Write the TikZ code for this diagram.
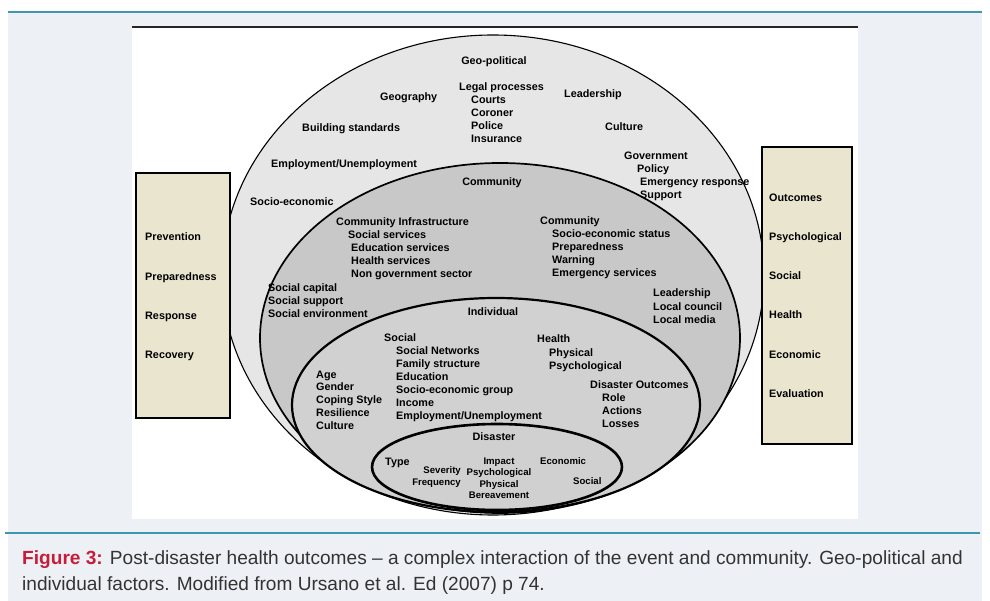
\documentclass[tikz,border=0pt]{standalone}
\usepackage{fontspec}
\setmainfont{Liberation Sans}
\newfontfamily\capfont{Liberation Sans}
\usepackage{tikz}
\usetikzlibrary{shapes, arrows}

\definecolor{panel}{HTML}{EDF1F5}
\definecolor{teal}{HTML}{3F97AD}
\definecolor{beige}{HTML}{E9E5CF}
\definecolor{figred}{HTML}{C41E3A}
\definecolor{captext}{HTML}{333333}
\definecolor{georing}{HTML}{E6E6E6}
\definecolor{commring}{HTML}{C8C8C8}
\definecolor{indring}{HTML}{D1D1D1}
\definecolor{disring}{HTML}{D0D0D0}

\begin{document}
\begin{tikzpicture}[x = 1pt, y = -1pt]
      \tikzstyle{lbl} = [
        anchor = base west,
        align = left,
        inner sep = 0pt,
        font = \fontsize{10.8}{13}\selectfont\bfseries
      ]

      \tikzstyle{small} = [
        lbl,
        font = \fontsize{9.6}{11.5}\selectfont\bfseries
      ]

      \tikzstyle{sidebox} = [
        rectangle,
        draw = black,
        line width = 2.5pt,
        fill = beige,
        inner sep = 0pt
      ]

      \tikzstyle{caption} = [
        anchor = base west,
        inner sep = 0pt,
        text = captext,
        font = \capfont\fontsize{19.1}{22}\selectfont
      ]

      \useasboundingbox (0,0) rectangle (990,601);
      \fill[panel] (8,12) rectangle (982,601);
      \draw[teal, line width = 1.5pt] (8,12) -- (982,12);
      \draw[teal, line width = 1.5pt] (5,533) -- (980,533);
      \fill[white] (132,27) rectangle (858,519);
      \draw[black!85, line width = 2.5pt] (132,27) -- (858,27);

      \draw[fill=georing, line width = 1.1pt] (493,275) ellipse (271 and 240);
      \draw[fill=commring, line width = 1.7pt] (500,338) ellipse (240 and 175);
      \draw[fill=indring, line width = 2.2pt] (496,405) ellipse (204 and 107);
      \draw[fill=disring, line width = 2.6pt] (497,467) ellipse (125 and 43);

      \node[sidebox, minimum width = 94, minimum height = 245] (phases) at (183,295.5) {};
      \node[sidebox, minimum width = 90, minimum height = 297] (results) at (807,295.5) {};

      \node[lbl, font = \fontsize{10.8}{39.2}\selectfont\bfseries] (phaselist) at (145,358.6)
        {Prevention\\Preparedness\\Response\\Recovery};
      \node[lbl, font = \fontsize{10.8}{39.3}\selectfont\bfseries] (resultlist) at (769,397.5)
        {Outcomes\\Psychological\\Social\\Health\\Economic\\Evaluation};

      \node[lbl, anchor = base] (geo) at (494,65) {Geo-political};
      \node[lbl] (geography) at (380,101) {Geography};
      \node[lbl] (legal) at (459,143) {Legal processes\\\hspace*{12pt}Courts\\
        \hspace*{12pt}Coroner\\\hspace*{12pt}Police\\\hspace*{12pt}Insurance};
      \node[lbl] (leadership) at (564,98) {Leadership};
      \node[lbl] (building) at (302,132) {Building standards};
      \node[lbl] (culture) at (605,131) {Culture};
      \node[lbl] (government) at (624,199) {Government\\\hspace*{13pt}Policy\\
        \hspace*{16pt}Emergency response\\\hspace*{16pt}Support};
      \node[lbl] (employment) at (271,168) {Employment/Unemployment};
      \node[lbl] (socioeconomic) at (250,206) {Socio-economic};

      \node[lbl, anchor = base] (community) at (492,186) {Community};
      \node[lbl] (infrastructure) at (336,278) {Community Infrastructure\\
        \hspace*{12pt}Social services\\\hspace*{15pt}Education services\\
        \hspace*{15pt}Health services\\\hspace*{15pt}Non government sector};
      \node[lbl] (communitystatus) at (540,277) {Community\\
        \hspace*{12pt}Socio-economic status\\\hspace*{12pt}Preparedness\\
        \hspace*{12pt}Warning\\\hspace*{12pt}Emergency services};
      \node[lbl] (socialcapital) at (268,318) {Social capital\\Social support\\Social environment};
      \node[lbl, font = \fontsize{10.8}{13.5}\selectfont\bfseries] (localleaders) at (653,324)
        {Leadership\\Local council\\Local media};

      \node[lbl, anchor = base] (individual) at (493,316) {Individual};
      \node[lbl] (social) at (384,419) {Social\\\hspace*{12pt}Social Networks\\
        \hspace*{12pt}Family structure\\\hspace*{12pt}Education\\
        \hspace*{12pt}Socio-economic group\\\hspace*{12pt}Income\\
        \hspace*{12pt}Employment/Unemployment};
      \node[lbl, font = \fontsize{10.8}{12.75}\selectfont\bfseries] (personal) at (316,429)
        {Age\\Gender\\Coping Style\\Resilience\\Culture};
      \node[lbl, font = \fontsize{10.8}{13.5}\selectfont\bfseries] (health) at (537,370)
        {Health\\\hspace*{12pt}Physical\\\hspace*{12pt}Psychological};
      \node[lbl] (disasteroutcomes) at (590,427) {Disaster Outcomes\\
        \hspace*{12pt}Role\\\hspace*{12pt}Actions\\\hspace*{12pt}Losses};

      \node[lbl, anchor = base] (disaster) at (494,440) {Disaster};
      \node[lbl] (type) at (385,465) {Type};
      \node[small, anchor = base east, align = right, font = \fontsize{9.6}{12}\selectfont\bfseries]
        (severity) at (461,485) {Severity\\Frequency};
      \node[small, anchor = base, align = center] (impact) at (499,498.5)
        {Impact\\Psychological\\Physical\\Bereavement};
      \node[small] (economic) at (540,464) {Economic};
      \node[small] (disastersocial) at (573,484) {Social};

      \node[caption] (captionone) at (22,564) {\textcolor{figred}{\bfseries Figure 3:}
        Post-disaster health outcomes – a complex interaction of the event and community. Geo-political and};
      \node[caption] (captiontwo) at (22,590) {individual factors. Modified from Ursano et al. Ed (2007) p 74.};
    \end{tikzpicture}
\end{document}
